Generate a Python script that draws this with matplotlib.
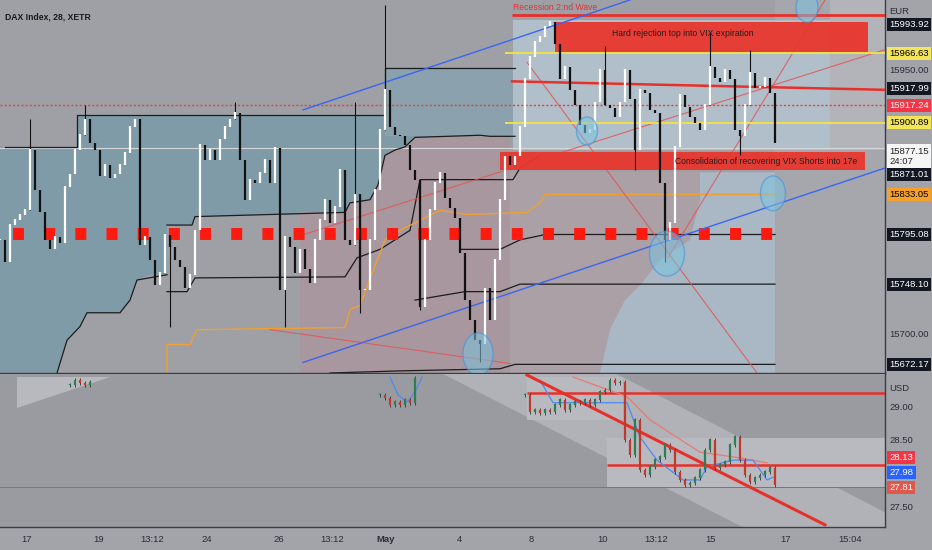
import numpy as np
import matplotlib.pyplot as plt
from matplotlib import font_manager as fm
from matplotlib.patches import Ellipse, Polygon, Rectangle

# narrow face if one is installed, otherwise Liberation Sans a bit smaller
font_names = {f.name for f in fm.fontManager.ttflist}
if 'Liberation Sans Narrow' in font_names:
    plt.rcParams['font.family'] = ['Liberation Sans Narrow', 'DejaVu Sans']
    tag_size, note_size, title_size = 8.2, 7.3, 7.4
else:
    plt.rcParams['font.family'] = ['Liberation Sans', 'DejaVu Sans']
    tag_size, note_size, title_size = 6.8, 6.2, 6.2

# ---- DAX index, 28 min bars (closes) ----
dax_close = [
    15790, 15769, 15804, 15809, 15814, 15818, 15875, 15837, 15816, 15790,
    15781, 15793, 15787, 15840, 15852, 15875, 15889, 15904, 15882, 15875,
    15850, 15861, 15849, 15852, 15861, 15872, 15897, 15904, 15785, 15793,
    15771, 15747, 15759, 15795, 15783, 15771, 15764, 15744, 15757, 15799,
    15880, 15866, 15875, 15866, 15885, 15897, 15904, 15910, 15866, 15828,
    15847, 15844, 15853, 15866, 15844, 15877, 15743, 15793, 15783, 15759,
    15781, 15762, 15749, 15790, 15809, 15828, 15806, 15821, 15856, 15790,
    15785, 15833, 15743, 15743, 15790, 15837, 15894, 15932, 15897, 15889,
    15888, 15880, 15856, 15847, 15726, 15790, 15818, 15844, 15853, 15830,
    15820, 15811, 15778, 15733, 15714, 15695, 15691, 15744, 15714, 15771,
    15828, 15869, 15861, 15869, 15897, 15942, 15963, 15977, 15982, 15992,
    15996, 15975, 15942, 15954, 15932, 15918, 15899, 15891, 15894, 15920,
    15951, 15918, 15915, 15906, 15920, 15951, 15923, 15875, 15932, 15929,
    15913, 15910, 15844, 15790, 15806, 15878, 15927, 15916, 15906, 15901,
    15894, 15918, 15954, 15943, 15939, 15951, 15942, 15894, 15888, 15918,
    15948, 15934, 15935, 15943, 15929, 15882,
]
wick_bar = [6, 17, 34, 47, 57, 71, 72, 77, 84, 96, 121, 127, 133, 142, 148, 150]
wick_to = [15904, 15918, 15708, 15920, 15708, 15920, 15721, 16012, 15724, 15674,
           15973, 15856, 15769, 15986, 15870, 15970]

# ---- VIX panel (only the parts visible in the pane) ----
vix_bar_a = [14, 15, 16, 17, 18]
vix_a = [29.35, 29.42, 29.38, 29.35, 29.39]
vix_bar_b = [76, 77, 78, 79, 80, 81, 82, 83]
vix_b = [29.2, 29.15, 29.05, 29.09, 29.05, 29.12, 29.08, 29.45]
vix_bar_c = list(range(105, 156))
vix_c = [29.2, 28.94, 28.97, 28.92, 28.97, 28.94, 29.05, 29.12, 28.97, 29.05,
         29.09, 29.08, 29.12, 29.05, 29.12, 29.24, 29.27, 29.42, 29.38, 29.39,
         28.52, 28.29, 28.82, 28.06, 27.98, 28.11, 28.21, 28.26, 28.44, 28.36,
         28.03, 27.91, 27.83, 27.86, 27.94, 28.06, 28.36, 28.52, 28.09, 28.14,
         28.18, 28.44, 28.56, 28.21, 27.98, 27.88, 27.94, 27.98, 28.03, 28.09,
         27.83]
vix_slow_bar = [114.6, 125.4, 130, 140, 146.6, 153.4]
vix_slow = [29.47, 29.17, 28.82, 28.33, 28.26, 28.17]
vix_fast_bar = [108, 110.6, 118, 125.4, 128, 131.4, 136.6, 140, 141.4, 146.6, 150.6, 153.4, 154.6]
vix_fast = [29.42, 29.08, 29.08, 29.08, 28.56, 28.21, 27.91, 27.91, 28.11, 28.21, 28.21, 27.91, 27.95]
vix_fast2_bar = [78, 79.6, 81.4, 83, 84.4]
vix_fast2 = [29.47, 29.2, 29.09, 29.24, 29.47]

# ---- axis tick labels ----
tick_bar = [5.4, 19.8, 30.4, 41.4, 55.8, 66.4, 77.2, 91.8, 106.2, 120.6, 131.2, 142.2, 157.2, 170]
tick_text = ['17', '19', '13:12', '24', '26', '13:12', 'May', '4', '8', '10', '13:12', '15', '17', '15:04']

# ---- drawn levels / zones ----
recession_level = 16003
rejection_zone = (15968, 15996)
consolidation_zone = (15856, 15873)
yellow_levels = [15966.63, 15900.89]
dotted_level = 15917.24
last_price = 15877.15
red_square_level = 15795.08

teal_x = [0, 15.4, 15.4, 77, 77, 102.6, 102.6, 96, 83, 81, 79, 77, 75.6, 74, 70, 69, 39, 38.4,
          33.4, 33.4, 30, 27.4, 26, 24, 17.4, 16, 13.4, 11.4, 0]
teal_p = [15878, 15878, 15908, 15908, 15953, 15953, 15888, 15889, 15887, 15878, 15875, 15870,
          15842, 15828, 15825, 15816, 15812, 15804, 15804, 15757, 15757, 15752, 15733, 15721,
          15721, 15708, 15695, 15664, 15664]
pink_x = [60, 69, 70, 74, 75.6, 77, 79, 81, 83, 102, 102, 60]
pink_p = [15816, 15816, 15825, 15828, 15842, 15870, 15875, 15878, 15887, 15888, 15664, 15664]
profile_x = [140, 155, 155, 120, 122, 125, 128, 132, 138, 140]
profile_p = [15854, 15854, 15664, 15664, 15705, 15733, 15747, 15771, 15790, 15828]

step1_x = [1, 15.4, 15.4, 77, 77, 103]
step1_p = [15878, 15878, 15908, 15908, 15953, 15953]
step2_x = [33.4, 38.4, 39, 69, 70, 74, 75.6, 77, 79, 81, 83, 96, 98, 103]
step2_p = [15804, 15804, 15812, 15816, 15825, 15828, 15842, 15870, 15875, 15878, 15887, 15889, 15888, 15888]
step3_x = [33.4, 37.4, 39, 69, 71.4, 76, 82, 84, 102.6, 104, 108]
step3_p = [15741, 15741, 15754, 15755, 15773, 15781, 15799, 15847, 15847, 15858, 15870]
step4_x = [11.4, 13.4, 16, 17.4, 24, 26, 27.4, 33.4]
step4_p = [15664, 15695, 15708, 15721, 15721, 15733, 15752, 15757]
step5_x = [92, 100, 104, 108, 109, 155]
step5_p = [15781, 15781, 15790, 15794, 15795.08, 15795.08]
step6_x = [83, 93, 100, 104, 155]
step6_p = [15733, 15741, 15741, 15748.10, 15748.10]
step7_x = [66, 80, 100, 103, 155]
step7_p = [15664, 15666, 15668, 15672.17, 15672.17]
vwap_x = [33.4, 33.4, 38, 39.4, 69, 70, 72, 77, 80, 88, 93.4, 105.4, 108, 109, 155]
vwap_p = [15665, 15691, 15691, 15705, 15707, 15724, 15728, 15790, 15799, 15818, 15814, 15816, 15825, 15833.05, 15833.05]

blue_up_x, blue_up_p = [60.6, 126], [15913, 16017]
blue_lo_x, blue_lo_p = [60.6, 177], [15674, 15858]
red_sloped_x, red_sloped_p = [102.4, 177], [15940, 15932]
thin_red = [([60, 177], [15794, 15970]), ([54, 102], [15705, 15673]),
            ([105.4, 151.4], [15958, 15664]), ([133.6, 165], [15773, 16017])]

circles = [(117.4, 15893, 4.2, 26.5), (133.4, 15777, 7, 42.6), (154.6, 15834, 5, 33),
           (95.6, 15682, 6, 40), (161.4, 16010, 4.4, 28)]

price_tags = [('15993.92', 15993.92, '#131722', 'white'), ('15966.63', 15966.63, '#f3e45a', 'black'),
              ('15917.99', 15933, '#131722', 'white'), ('15917.24', 15917.24, '#f23645', 'white'),
              ('15900.89', 15900.89, '#f3e45a', 'black'), ('15877.15\n24:07', 15869, '#f5f5f5', '#222222'),
              ('15871.01', 15852, '#131722', 'white'), ('15833.05', 15833.05, '#f5a02a', 'black'),
              ('15795.08', 15795.08, '#131722', 'white'), ('15748.10', 15748.10, '#131722', 'white'),
              ('15672.17', 15672.17, '#131722', 'white')]
plain_ticks = [15950.00, 15700.00]
vix_tags = [('28.13', 28.25, '#f23645', 'white'), ('27.98', 28.02, '#2962ff', 'white'),
            ('27.81', 27.80, '#e0584c', 'white')]
vix_ticks = [29.00, 28.50, 27.50]

fig = plt.figure(figsize=(9.32, 5.5), dpi=100)
fig.patch.set_facecolor('#a2a4aa')
ax = fig.add_axes([0, 177 / 550, 885 / 932, 373 / 550])
ax2 = fig.add_axes([0, 23 / 550, 885 / 932, 153 / 550])
ax.set_facecolor('#9ea0a6')
ax2.set_facecolor('#999ba1')
ax.set_xlim(0, 177)
ax.set_ylim(15664, 16017)
ax2.set_xlim(0, 177)
ax2.set_ylim(27.197, 29.515)

# background zones
ax.add_patch(Rectangle((155, 15664), 22, 360, fc='#a5a7ad', ec='none', zorder=0))
ax.add_patch(Rectangle((166, 15875), 11, 142, fc='#b3b3ba', ec='none', zorder=0.2))
ax.add_patch(Polygon(list(zip(teal_x, teal_p)), fc='#7f9ba7', ec='none', zorder=0.5))
ax.add_patch(Polygon(list(zip(pink_x, pink_p)), fc='#a8979e', ec='none', zorder=0.5))
ax.add_patch(Rectangle((77, 15888), 25.6, 65, fc='#8ba1ae', ec='none', zorder=0.6))
ax.add_patch(Rectangle((102.6, 15875), 63.4, 123, fc='#b1bfca', ec='none', zorder=0.6))
ax.add_patch(Rectangle((102, 15664), 53, 190, fc='#aaa0a6', ec='none', zorder=0.5))
ax.add_patch(Polygon(list(zip(profile_x, profile_p)), fc='#a9b8c4', ec='none', zorder=0.6))

# structure lines
for sx, sp in [(step1_x, step1_p), (step2_x, step2_p), (step3_x, step3_p), (step4_x, step4_p),
               (step5_x, step5_p), (step6_x, step6_p), (step7_x, step7_p)]:
    ax.plot(sx, sp, color='#1c1c1c', lw=0.9, zorder=2)
ax.plot(vwap_x, vwap_p, color='#f0a030', lw=1.0, zorder=2)
ax.axhline(last_price, color='#d4d6da', lw=0.8, zorder=1)
ax.axhline(dotted_level, color='#ef3b36', lw=1.0, ls=(0, (1.5, 1.5)), zorder=2)
for lv in yellow_levels:
    ax.hlines(lv, 101, 177, color='#f0e04a', lw=1.4, zorder=3)
ax.hlines(red_square_level, 2.6, 155, color='#ff1a10', lw=8.6,
          linestyles=(0, (0.92, 1.69)), capstyle='butt', zorder=3)
ax.hlines(recession_level, 102.4, 177, color='#e8302a', lw=2.0, zorder=4)
ax.plot(red_sloped_x, red_sloped_p, color='#e8302a', lw=1.8, zorder=4)
ax.plot(blue_up_x, blue_up_p, color='#3a66f0', lw=1.0, zorder=4)
ax.plot(blue_lo_x, blue_lo_p, color='#3a66f0', lw=1.0, zorder=4)
for tx, tp in thin_red:
    ax.plot(tx, tp, color='#e25555', lw=0.8, alpha=0.85, zorder=2)

ax.add_patch(Rectangle((111, rejection_zone[0]), 62.6, rejection_zone[1] - rejection_zone[0],
                       fc='#e8372f', ec='none', alpha=0.95, zorder=2.5))
ax.add_patch(Rectangle((100, consolidation_zone[0]), 73, consolidation_zone[1] - consolidation_zone[0],
                       fc='#e8372f', ec='none', alpha=0.95, zorder=2.5))

# candles
closes = np.array(dax_close, dtype=float)
opens = np.r_[closes[0], closes[:-1]]
bars = np.arange(len(closes))
up = closes >= opens
lo = np.minimum(opens, closes)
hi = np.maximum(opens, closes)
for i, w in zip(wick_bar, wick_to):
    ax.vlines(i, min(lo[i], w), max(hi[i], w), color='#111111', lw=0.8, zorder=5)
ax.vlines(bars[up], lo[up], hi[up] + 0.8, color='white', lw=1.6, zorder=6)
ax.vlines(bars[~up], lo[~up], hi[~up], color='#111111', lw=1.6, zorder=6)

for cx, cp, cw, ch in circles:
    ax.add_patch(Ellipse((cx, cp), cw, ch, fc='#7cc3df', ec='#3d8fe0', alpha=0.55, lw=1.0, zorder=7))

ax.text(136.6, 15985, 'Hard rejection top into VIX expiration', ha='center', va='center',
        fontsize=note_size, color='#2a1a1a', zorder=8)
ax.text(135, 15864, 'Consolidation of recovering VIX Shorts into 17e', ha='left', va='center',
        fontsize=note_size, color='#2a1a1a', zorder=8)
ax.text(102.6, 16010, 'Recession 2:nd Wave', ha='left', va='center', fontsize=title_size,
        color='#e53030', zorder=8)
ax.text(0.006, 0.955, 'DAX Index, 28, XETR', transform=ax.transAxes, fontsize=title_size,
        fontweight='bold', color='#1a1a1a', va='center')

# right price scale
yt = ax.get_yaxis_transform()
ax.text(1.005, 16006, 'EUR', transform=yt, fontsize=tag_size, color='#2a2e39', va='center', clip_on=False)
for lv in plain_ticks:
    ax.text(1.005, lv, f'{lv:.2f}', transform=yt, fontsize=tag_size, color='#2a2e39', va='center',
            clip_on=False)
for txt, lv, bg, fg in price_tags:
    ax.text(1.005, lv, txt, transform=yt, fontsize=tag_size, color=fg, va='center', ha='left',
            clip_on=False, linespacing=1.25,
            bbox=dict(boxstyle='square,pad=0.22', fc=bg, ec='none'), zorder=9)

# ---- VIX pane ----
ax2.add_patch(Polygon([(3.4, 29.47), (3.4, 29.0), (22, 29.47)], fc='#b7b9be', ec='none', zorder=0.5))
ax2.add_patch(Polygon([(80, 31.21), (177, 27.42), (177, 26.09), (80, 29.85)], fc='#b0b2b8',
                      ec='none', zorder=0.5))
ax2.add_patch(Rectangle((105.4, 28.82), 19.2, 0.65, fc='#b8babf', ec='none', zorder=0.6))
ax2.add_patch(Rectangle((121.4, 27.80), 55.6, 0.75, fc='#b8babf', ec='none', zorder=0.6))
ax2.hlines(29.23, 105.4, 177, color='#e8302a', lw=1.8, zorder=3)
ax2.hlines(28.13, 121.4, 177, color='#e8302a', lw=1.8, zorder=3)
ax2.axhline(27.81, color='#e04a44', lw=0.7, zorder=2)
ax2.plot([105.4, 165], [29.5, 27.23], color='#e8302a', lw=2.2, zorder=4)
ax2.plot(vix_slow_bar, vix_slow, color='#e77a72', lw=0.9, zorder=3)
ax2.plot(vix_fast_bar, vix_fast, color='#4d8af0', lw=0.9, zorder=3)
ax2.plot(vix_fast2_bar, vix_fast2, color='#4d8af0', lw=0.9, zorder=3)
for vb, vc in [(vix_bar_a, vix_a), (vix_bar_b, vix_b), (vix_bar_c, vix_c)]:
    vc = np.array(vc)
    vo = np.r_[vc[0], vc[:-1]]
    vb = np.array(vb)
    vup = vc >= vo
    ax2.vlines(vb, np.minimum(vo, vc) - 0.03, np.maximum(vo, vc) + 0.03, color='#333333', lw=0.6, zorder=5)
    ax2.vlines(vb[vup], vo[vup], vc[vup] + 0.01, color='#2f7d57', lw=1.6, zorder=6)
    ax2.vlines(vb[~vup], vc[~vup], vo[~vup], color='#c0392b', lw=1.6, zorder=6)

yt2 = ax2.get_yaxis_transform()
ax2.text(1.005, 29.30, 'USD', transform=yt2, fontsize=tag_size, color='#2a2e39', va='center', clip_on=False)
for lv in vix_ticks:
    ax2.text(1.005, lv, f'{lv:.2f}', transform=yt2, fontsize=tag_size, color='#2a2e39', va='center',
             clip_on=False)
for txt, lv, bg, fg in vix_tags:
    ax2.text(1.005, lv, txt, transform=yt2, fontsize=tag_size, color=fg, va='center', clip_on=False,
             bbox=dict(boxstyle='square,pad=0.22', fc=bg, ec='none'), zorder=9)

for a in (ax, ax2):
    a.set_yticks([])
    for s in ('top', 'left'):
        a.spines[s].set_visible(False)
    for s in ('right', 'bottom'):
        a.spines[s].set_color('#3a3d44')
        a.spines[s].set_linewidth(1.0)
ax.set_xticks([])
ax2.set_xticks(tick_bar)
ax2.set_xticklabels(tick_text)
ax2.tick_params(axis='x', length=0, pad=6, colors='#2a2e39', labelsize=tag_size)
for lab in ax2.get_xticklabels():
    if lab.get_text() == 'May':
        lab.set_fontweight('bold')

fig.savefig('out.png', dpi=100)
